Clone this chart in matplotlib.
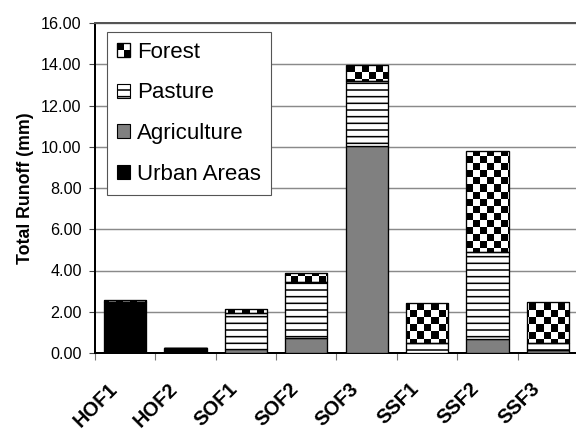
import numpy as np
import matplotlib
matplotlib.use("Agg")
import matplotlib.pyplot as plt
from matplotlib.patches import Patch, Rectangle
from matplotlib.legend_handler import HandlerBase
from matplotlib.transforms import ScaledTranslation

plt.rcParams['font.family'] = ['Liberation Sans', 'DejaVu Sans']
plt.rcParams['hatch.linewidth'] = 1.4

sites = ['HOF1', 'HOF2', 'SOF1', 'SOF2', 'SOF3', 'SSF1', 'SSF2', 'SSF3']
urban = [2.45, 0.22, 0.0, 0.0, 0.0, 0.0, 0.0, 0.0]
agriculture = [0.0, 0.0, 0.18, 0.74, 10.02, 0.0, 0.70, 0.15]
pasture = [0.0, 0.0, 1.74, 2.72, 3.18, 0.47, 4.22, 0.32]
forest = [0.12, 0.0, 0.20, 0.44, 0.75, 1.94, 4.86, 2.02]
yticks = [0, 2, 4, 6, 8, 10, 12, 14, 16]


class CheckerHandler(HandlerBase):
    # 2x2 checker square for the Forest legend entry
    def create_artists(self, legend, orig_handle, xdescent, ydescent,
                       width, height, fontsize, trans):
        x0, y0 = -xdescent, -ydescent
        hw, hh = width / 2, height / 2
        box = Rectangle((x0, y0), width, height, facecolor='white',
                        edgecolor='black', lw=1.2, transform=trans)
        a = Rectangle((x0, y0 + hh), hw, hh, facecolor='black', lw=0, transform=trans)
        b = Rectangle((x0 + hw, y0), hw, hh, facecolor='black', lw=0, transform=trans)
        return [box, a, b]


dpi = 80
fig = plt.figure(figsize=(576 / dpi, 431 / dpi), dpi=dpi)
ax = fig.add_axes([95 / 576, 1 - 353 / 431, 483 / 576, 330 / 431])

x = np.arange(len(sites))
w = 0.7
ec = 'black'
lw = 1.2

ax.bar(x, urban, w, color='black', edgecolor=ec, lw=lw, zorder=3)
b1 = np.array(urban)
ax.bar(x, agriculture, w, bottom=b1, color='#808080', edgecolor=ec, lw=lw, zorder=3)
b2 = b1 + np.array(agriculture)
ax.bar(x, pasture, w, bottom=b2, color='white', edgecolor=ec, lw=lw,
       hatch='--', zorder=3)
b3 = b2 + np.array(pasture)
fbars = ax.bar(x, forest, w, bottom=b3, color='none', edgecolor=ec, lw=lw, zorder=3)

# checkerboard texture clipped to each forest segment (~7 px squares)
nc, nr = int(round(483 / 7)), int(round(330 / 7))
checker = np.add.outer(np.arange(nr), np.arange(nc)) % 2
for r in fbars:
    if r.get_height() <= 0:
        continue
    im = ax.imshow(checker, cmap='gray', vmin=0, vmax=1, origin='lower',
                   extent=(-0.5, len(sites) - 0.5, 0, 16), aspect='auto',
                   interpolation='nearest', zorder=2.5)
    im.set_clip_path(r)

ax.set_xlim(-0.5, len(sites) - 0.5)
ax.set_ylim(0, 16)

ax.set_yticks(yticks)
ax.set_yticklabels([f'{v:.2f}' for v in yticks], fontsize=14.5)
ax.tick_params(axis='y', length=5, width=1, color='#444444', pad=7)
ax.yaxis.grid(True, color='#8a8a8a', lw=1.3)
ax.set_axisbelow(True)

ax.set_xticks(x)
ax.set_xticklabels(sites, rotation=45, ha='right', va='center',
                   rotation_mode='anchor', fontsize=18, fontweight='bold')
ax.tick_params(axis='x', length=0, pad=0)
shift = ScaledTranslation(-11 / dpi, -33 / dpi, fig.dpi_scale_trans)
for lab in ax.get_xticklabels():
    lab.set_transform(lab.get_transform() + shift)
ax.set_xticks(np.arange(len(sites) + 1) - 0.5, minor=True)
ax.tick_params(axis='x', which='minor', length=6, width=1, color='#777777')

ax.set_ylabel('Total Runoff (mm)', fontsize=16, fontweight='bold')
ax.yaxis.set_label_coords(-0.127, 0.5)

for s in ['left', 'bottom']:
    ax.spines[s].set_color('black')
    ax.spines[s].set_linewidth(1.8)
ax.spines['top'].set_color('#555555')
ax.spines['top'].set_linewidth(1.8)
ax.spines['right'].set_visible(False)

handles = [Patch(facecolor='white', edgecolor='black'),
           Patch(facecolor='white', edgecolor='black', hatch='--'),
           Patch(facecolor='#808080', edgecolor='black'),
           Patch(facecolor='black', edgecolor='black')]
labels = ['Forest', 'Pasture', 'Agriculture', 'Urban Areas']
leg = ax.legend(handles, labels, loc='upper left', bbox_to_anchor=(0.025, 0.973),
                borderaxespad=0, fontsize=20, frameon=True, fancybox=False,
                framealpha=1, edgecolor='#555555', handlelength=0.6,
                handleheight=0.6, handletextpad=0.3, labelspacing=0.88,
                borderpad=0.45, handler_map={handles[0]: CheckerHandler()})
leg.get_frame().set_linewidth(1.0)
leg.set_zorder(5)

fig.savefig('out.png', dpi=dpi)
